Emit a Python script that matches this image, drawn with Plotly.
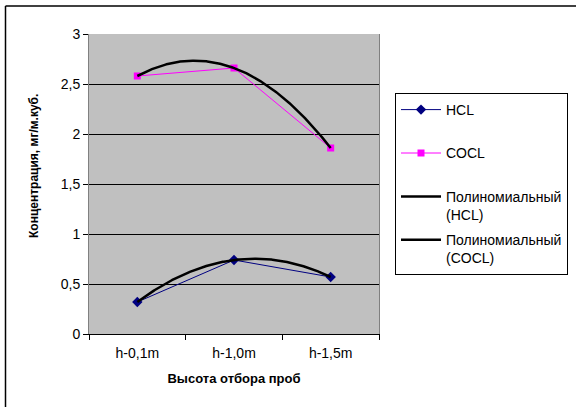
import numpy as np
import plotly.graph_objects as go

categories = ["h-0,1m", "h-1,0m", "h-1,5m"]
hcl = [0.32, 0.74, 0.57]
cocl = [2.58, 2.66, 1.86]
y_ticks = [0, 0.5, 1, 1.5, 2, 2.5, 3]

W, H = 576, 407
L, R, T, B = 89, 197, 34, 73
pw, ph = W - L - R, H - T - B

def px_x(p):
    return (p - L) / pw

def px_y(p):
    return (H - B - p) / ph

FONT = "Liberation Sans, Arial, sans-serif"
NB = "\u00a0"

# polynomial (order 2) trendlines, as in the source chart
xi = np.arange(len(categories))
xs = np.linspace(0, len(categories) - 1, 200)
fit_hcl = np.polyval(np.polyfit(xi, hcl, 2), xs)
fit_cocl = np.polyval(np.polyfit(xi, cocl, 2), xs)

fig = go.Figure()
fig.add_trace(go.Scatter(x=categories, y=hcl, name="HCL<br>" + NB, mode="lines+markers",
                         line=dict(color="#000080", width=1),
                         marker=dict(symbol="diamond", size=8, color="#000080"),
                         legendgroup="a"))
fig.add_trace(go.Scatter(x=categories, y=cocl, name="COCL<br>" + NB, mode="lines+markers",
                         line=dict(color="#FF00FF", width=1),
                         marker=dict(symbol="square", size=7, color="#FF00FF"),
                         legendgroup="b"))
fig.add_trace(go.Scatter(x=xs, y=fit_hcl, xaxis="x2", name="Полиномиальный<br>(HCL)",
                         mode="lines", line=dict(color="black", width=2.5),
                         legendgroup="c"))
fig.add_trace(go.Scatter(x=xs, y=fit_cocl, xaxis="x2", name="Полиномиальный<br>(COCL)",
                         mode="lines", line=dict(color="black", width=2.5),
                         legendgroup="d"))

fig.update_layout(
    width=W, height=H,
    margin=dict(l=L, r=R, t=T, b=B, autoexpand=False),
    paper_bgcolor="white",
    plot_bgcolor="#C0C0C0",
    separators=", ",
    font=dict(family=FONT, size=13, color="black"),
    showlegend=True,
    legend=dict(x=px_x(395), y=px_y(93), xanchor="left", yanchor="top",
                bgcolor="white", bordercolor="black", borderwidth=1,
                font=dict(size=14, family=FONT), itemwidth=40, valign="top",
                tracegroupgap=4, traceorder="grouped"),
    xaxis=dict(type="category", range=[-0.5, 2.5], showgrid=False,
               tickson="boundaries", ticks="outside", ticklen=5, tickcolor="black",
               showline=True, linecolor="black", linewidth=1,
               tickfont=dict(size=14), ticklabelstandoff=6,
               title=dict(text="<b>Высота отбора проб</b>", font=dict(size=13), standoff=14),
               fixedrange=True),
    xaxis2=dict(overlaying="x", range=[-0.5, 2.5], visible=False),
    yaxis=dict(range=[0, 3], tickvals=y_ticks, showgrid=True, gridcolor="black", gridwidth=1,
               ticks="outside", ticklen=5, tickcolor="black",
               showline=True, linecolor="#808080", linewidth=1, mirror=True,
               zeroline=False, tickfont=dict(size=14)),
)

# y-axis title (placed like the source, a little above the plot centre)
fig.add_annotation(text="<b>Концентрация, мг/м.куб.</b>", textangle=-90,
                   xref="paper", yref="paper", x=px_x(34), y=px_y(166),
                   xanchor="center", yanchor="middle", showarrow=False,
                   font=dict(size=12, family=FONT))

# outer chart frame: only left and top edges fall inside the picture
fig.add_shape(type="line", xref="paper", yref="paper",
              x0=px_x(5.5), x1=px_x(5.5), y0=px_y(H + 5), y1=px_y(6),
              line=dict(color="black", width=1.5))
fig.add_shape(type="line", xref="paper", yref="paper",
              x0=px_x(5.5), x1=px_x(W + 5), y0=px_y(6), y1=px_y(6),
              line=dict(color="black", width=1.5))

fig.write_html("out.html")
